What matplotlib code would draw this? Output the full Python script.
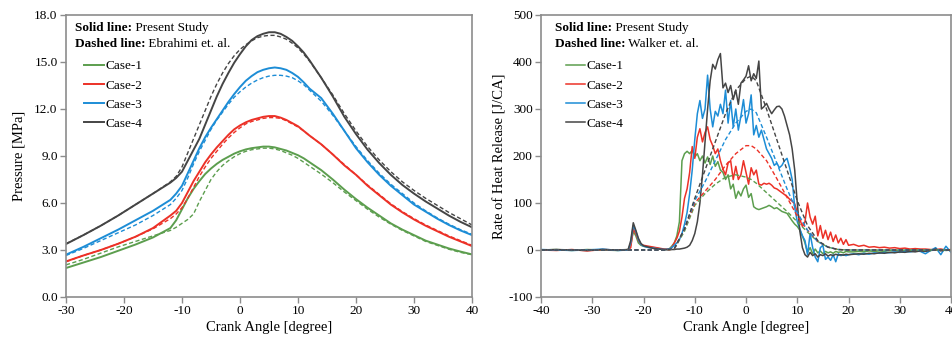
import numpy as np
import matplotlib.pyplot as plt

plt.rcParams['font.family'] = ['Liberation Serif', 'DejaVu Serif']
plt.rcParams['axes.unicode_minus'] = False

# ---------------- pressure data (left panel) ----------------
p_angle = [-30, -27, -24, -21, -18, -15, -12, -11, -10, -9, -8, -7, -6, -5, -4, -3, -2, -1,
           0, 1, 2, 3, 4, 5, 6, 7, 8, 9, 10, 11, 12, 14, 16, 18, 20, 22, 24, 26, 28, 30,
           32, 34, 36, 38, 40]

p_case1 = [1.85, 2.2, 2.55, 2.95, 3.35, 3.8, 4.4, 4.9, 5.6, 6.3, 6.9, 7.4, 7.85, 8.2, 8.5, 8.75, 8.95, 9.15,
           9.3, 9.42, 9.5, 9.55, 9.6, 9.6, 9.55, 9.45, 9.35, 9.2, 9.05, 8.85, 8.6, 8.1, 7.5, 6.85, 6.25, 5.7, 5.2, 4.7, 4.3, 3.95,
           3.6, 3.35, 3.1, 2.9, 2.72]
p_case2 = [2.27, 2.65, 3.0, 3.4, 3.85, 4.4, 5.2, 5.5, 6.0, 6.7, 7.4, 8.0, 8.6, 9.1, 9.55, 9.95, 10.35, 10.7,
           10.95, 11.15, 11.3, 11.4, 11.5, 11.55, 11.55, 11.45, 11.3, 11.1, 10.9, 10.6, 10.3, 9.75, 9.1, 8.4, 7.8, 7.1, 6.5, 5.9, 5.4, 4.95,
           4.55, 4.2, 3.85, 3.55, 3.25]
p_case3 = [2.7, 3.2, 3.75, 4.3, 4.9, 5.5, 6.2, 6.6, 7.1, 7.9, 8.7, 9.5, 10.2, 10.8, 11.35, 11.9, 12.45, 12.95,
           13.4, 13.8, 14.1, 14.35, 14.5, 14.6, 14.65, 14.6, 14.5, 14.3, 14.05, 13.7, 13.3, 12.7, 11.7, 10.6, 9.5, 8.6, 7.8, 7.1, 6.5, 5.9,
           5.45, 5.0, 4.6, 4.25, 3.95]
p_case4 = [3.38, 3.95, 4.55, 5.2, 5.9, 6.6, 7.3, 7.6, 8.0, 8.7, 9.4, 10.1, 11.0, 11.9, 12.8, 13.6, 14.3, 14.95,
           15.5, 16.0, 16.4, 16.65, 16.8, 16.9, 16.9, 16.8, 16.6, 16.35, 16.0, 15.6, 15.1, 14.0, 12.8, 11.5, 10.4, 9.4, 8.55, 7.8, 7.15, 6.6,
           6.1, 5.65, 5.2, 4.8, 4.45]

p_ref1 = [2.05, 2.4, 2.8, 3.2, 3.55, 3.9, 4.25, 4.45, 4.7, 4.95, 5.3, 6.1, 6.8, 7.5, 8.0, 8.4, 8.7, 8.95,
          9.15, 9.3, 9.4, 9.45, 9.5, 9.5, 9.45, 9.35, 9.2, 9.05, 8.85, 8.6, 8.35, 7.85, 7.3, 6.7, 6.15, 5.6, 5.1, 4.65, 4.25, 3.9,
          3.55, 3.3, 3.05, 2.85, 2.7]
p_ref2 = [2.25, 2.65, 3.0, 3.4, 3.85, 4.35, 5.0, 5.3, 5.7, 6.3, 7.0, 7.7, 8.3, 8.85, 9.3, 9.75, 10.15, 10.5,
          10.8, 11.05, 11.2, 11.3, 11.4, 11.45, 11.45, 11.4, 11.25, 11.05, 10.85, 10.6, 10.3, 9.75, 9.1, 8.45, 7.8, 7.15, 6.55, 5.95, 5.45, 5.0,
          4.6, 4.25, 3.9, 3.6, 3.3]
p_ref3 = [2.65, 3.1, 3.6, 4.1, 4.6, 5.2, 5.9, 6.3, 6.8, 7.6, 8.5, 9.3, 10.0, 10.7, 11.3, 11.8, 12.3, 12.75,
          13.1, 13.4, 13.65, 13.85, 14.0, 14.1, 14.15, 14.15, 14.1, 14.0, 13.8, 13.55, 13.2, 12.5, 11.6, 10.6, 9.6, 8.7, 7.9, 7.2, 6.6, 6.0,
          5.5, 5.05, 4.65, 4.3, 4.0]
p_ref4 = [3.4, 3.95, 4.55, 5.2, 5.9, 6.6, 7.35, 7.7, 8.3, 9.2, 10.1, 11.0, 11.9, 12.8, 13.6, 14.3, 14.9, 15.4,
          15.8, 16.1, 16.35, 16.55, 16.65, 16.7, 16.7, 16.6, 16.45, 16.2, 15.9, 15.5, 15.05, 14.0, 12.9, 11.7, 10.6, 9.6, 8.75, 8.0, 7.35, 6.8,
          6.3, 5.85, 5.4, 5.0, 4.6]

# ---------------- heat release data (right panel) ----------------
h_angle = np.concatenate([[-40, -37, -34, -31, -28, -25, -23, -22.5, -22, -21.5, -21, -20.5, -20, -19, -18, -17, -16],
                          np.arange(-15, 20.01, 0.5),
                          np.arange(21, 41, 1)])

h_case1 = [0, 1, -1, 1, 0, -1, 1, 10, 40, 30, 15, 10, 8, 6, 5, 3, 1,
           2, 8, 15, 30, 60, 190, 205, 210, 205, 212,
           198, 205, 190, 200, 185, 198, 182, 200, 178, 188,
           170, 165, 150, 160, 130, 140, 110, 125, 115, 130,
           138, 112, 120, 92, 88, 86, 88, 90, 92, 95,
           92, 88, 90, 86, 82, 80, 78, 70, 62, 55,
           50, 42, 30, 15, -5, 5, -8, 2, -6, -2,
           -8, -3, -6, -4, -7, -3, -5, -4, -6, -3, -4,
           -4, -3, -4, -2, -3, -2, -3, -1, -2, -1, -2, -1, 0, -1, 0, -1, 0, 1, -1, 0]
h_case2 = [0, -1, 1, -2, 1, 0, 0, 5, 45, 35, 20, 12, 10, 8, 6, 4, 2,
           2, 5, 15, 25, 40, 70, 110, 130, 165, 220,
           195, 240, 258, 230, 250, 262, 235, 222, 205, 215,
           190, 172, 160, 185, 190, 150, 178, 150, 160, 190,
           165, 140, 175, 160, 170, 140, 138, 142, 140, 142,
           138, 132, 130, 126, 122, 118, 114, 108, 104, 98,
           80, 65, 50, 60, 100, 70, 55, 72, 30, 52,
           25, 42, 22, 38, 18, 32, 15, 25, 12, 22, 10,
           12, 8, 10, 6, 7, 5, 6, 4, 5, 3, 4, 2, 3, 2, 2, 1, 1, 2, 0, 1]
h_case3 = [1, 0, -1, 0, 2, -1, 0, 15, 52, 40, 22, 12, 8, 5, 4, 2, 1,
           2, 5, 10, 15, 22, 35, 55, 80, 120, 170,
           235, 290, 318, 280, 300, 372, 300, 262, 295, 285,
           310, 290, 340, 270, 318, 262, 300, 255, 285, 320,
           270, 290, 330, 245, 265, 240, 255, 235, 215, 205,
           195, 180, 185, 175, 180, 190, 195, 175, 150, 90,
           60, 45, 30, 20, -10, 35, 5, -15, -25, 5,
           10, -20, -15, -22, -10, -25, -8, -12, -10, -12, -10,
           -8, -10, -7, -9, -6, -7, -5, -6, -4, -5, -3, -4, -2, -3, -8, -1, 5, -10, 8, -5]
h_case4 = [0, 1, 0, -1, 1, 0, 1, 20, 58, 42, 25, 14, 9, 6, 3, 2, 1,
           0, 1, 1, 2, 2, 3, 4, 6, 10, 20,
           35, 60, 100, 160, 230, 300, 360, 395, 385, 405,
           418, 345, 355, 335, 350, 320, 340, 310, 355, 362,
           370, 392, 360, 375, 365, 402, 300, 305, 312, 300,
           290, 298, 305, 306, 300, 285, 265, 245, 215, 170,
           100, 40, 5, -10, -15, -5, -12, -8, -15, -10,
           -12, -8, -13, -10, -12, -9, -11, -10, -11, -9, -10,
           -9, -8, -9, -7, -8, -6, -7, -5, -6, -4, -5, -3, -4, -2, -3, -1, 2, -2, 0, -1]

r_angle = [-40, -16, -14, -12, -10, -8, -6, -4, -2, 0, 1, 2, 4, 6, 8, 10, 12, 14, 16, 18, 20, 40]
r_case1 = [0, 0, 2, 40, 95, 120, 140, 155, 160, 155, 150, 142, 122, 102, 82, 60, 38, 18, 6, 1, 0, 0]
r_case2 = [0, 0, 2, 45, 100, 125, 150, 180, 205, 222, 222, 215, 190, 152, 112, 72, 42, 18, 6, 1, 0, 0]
r_case3 = [0, 0, 3, 45, 105, 145, 190, 235, 270, 295, 300, 292, 240, 185, 130, 80, 42, 18, 6, 1, 0, 0]
r_case4 = [0, 0, 3, 45, 110, 170, 230, 290, 340, 365, 370, 360, 300, 235, 170, 105, 52, 20, 6, 1, 0, 0]

labels = ['Case-1', 'Case-2', 'Case-3', 'Case-4']
colors = ['#5c9e4e', '#ec3127', '#1d8dd6', '#454545']

fig = plt.figure(figsize=(9.52, 3.37), dpi=100)
ax1 = fig.add_axes([0.0693, 0.1187, 0.4265, 0.8368])
ax2 = fig.add_axes([0.5683, 0.1187, 0.4307, 0.8368])


def style_axes(ax):
    for s in ax.spines.values():
        s.set_color('#8c8c8c')
        s.set_linewidth(1.2)
    ax.tick_params(direction='out', length=4, width=1, color='#8c8c8c',
                   labelsize=9.5, pad=2)


def header(ax, x, y, ref):
    t1 = ax.text(x, y, 'Solid line:', transform=ax.transAxes, fontsize=9.5,
                 fontweight='bold', va='center')
    ax.annotate(' Present Study', xy=(1, 0), xycoords=t1, va='bottom', fontsize=9.5)
    t2 = ax.text(x, y - 0.055, 'Dashed line:', transform=ax.transAxes, fontsize=9.5,
                 fontweight='bold', va='center')
    ax.annotate(' ' + ref, xy=(1, 0), xycoords=t2, va='bottom', fontsize=9.5)


# left panel
p_solid = [p_case1, p_case2, p_case3, p_case4]
p_dash = [p_ref1, p_ref2, p_ref3, p_ref4]
handles = []
for i in range(4):
    ln, = ax1.plot(p_angle, p_solid[i], color=colors[i], lw=1.4, label=labels[i])
    handles.append(ln)
for i in range(4):
    ax1.plot(p_angle, p_dash[i], color=colors[i], lw=1.0, ls=(0, (3, 1.8)))
ax1.set_xlim(-30, 40)
ax1.set_ylim(0, 18)
ax1.set_xticks(range(-30, 41, 10))
ax1.set_yticks(np.arange(0, 18.1, 3))
ax1.set_yticklabels(['%.1f' % v for v in np.arange(0, 18.1, 3)])
ax1.set_xlabel('Crank Angle [degree]', fontsize=10.5, labelpad=3)
ax1.set_ylabel('Pressure [MPa]', fontsize=10.5, labelpad=6)
style_axes(ax1)
header(ax1, 0.022, 0.953, 'Ebrahimi et. al.')
ax1.legend(handles=handles, loc='upper left', bbox_to_anchor=(0.045, 0.84),
           frameon=False, fontsize=9.5, handlelength=1.5, handletextpad=0.1,
           labelspacing=0.53, borderpad=0, borderaxespad=0)

# right panel
h_solid = [h_case1, h_case2, h_case3, h_case4]
r_dash = [r_case1, r_case2, r_case3, r_case4]
handles = []
for i in range(4):
    ln, = ax2.plot(h_angle, h_solid[i], color=colors[i], lw=1.1, label=labels[i])
    handles.append(ln)
for i in range(4):
    ax2.plot(r_angle, r_dash[i], color=colors[i], lw=1.0, ls=(0, (3, 1.8)))
ax2.set_xlim(-40, 40)
ax2.set_ylim(-100, 500)
ax2.set_xticks(range(-40, 41, 10))
ax2.set_yticks(range(-100, 501, 100))
ax2.set_xlabel('Crank Angle [degree]', fontsize=10.5, labelpad=3)
ax2.set_ylabel('Rate of Heat Release [J/CA]', fontsize=10.5, labelpad=1)
style_axes(ax2)
header(ax2, 0.034, 0.953, 'Walker et. al.')
ax2.legend(handles=handles, loc='upper left', bbox_to_anchor=(0.06, 0.84),
           frameon=False, fontsize=9.5, handlelength=1.5, handletextpad=0.1,
           labelspacing=0.53, borderpad=0, borderaxespad=0)

fig.savefig('out.png', dpi=100)
